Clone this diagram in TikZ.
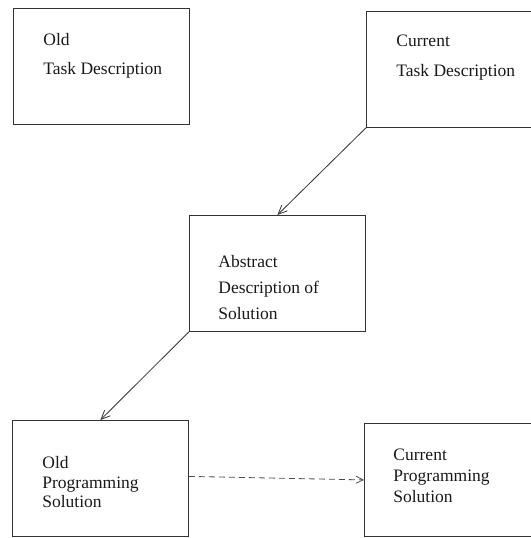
\documentclass[tikz,border=0pt]{standalone}
\usepackage{fontspec}
\setmainfont{Liberation Serif}
\usetikzlibrary{arrows.meta, positioning}

\begin{document}
\begin{tikzpicture}[
		x=1pt, y=-1pt,
		line width=0.8pt,
		box/.style={rectangle, draw=black!80, anchor=north west, inner sep=0pt,
			minimum width=176pt, minimum height=116pt},
		txt/.style={align=left, inner sep=0pt, anchor=north west, text=black!90,
			font=\fontsize{17.5}{#1}\selectfont},
		arr/.style={-{Straight Barb[length=9pt, width=8pt]}, draw=black!80},
		dasharr/.style={-{Straight Barb[length=7pt, width=7pt]}, draw=black!70,
			dash pattern=on 6pt off 4pt}
	]
		\useasboundingbox (0,0) rectangle (530,538);

		\node[box] (oldtask) at (13,8) {};
		\node[box] (curtask) at (366,11) {};
		\node[box] (abstract) at (189,215) {};
		\node[box] (oldprog) at (12,420) {};
		\node[box, minimum height=113pt] (curprog) at (364,423) {};

		\node[txt=29, below right=25pt and 30pt of oldtask.north west] (oldtasktxt) {Old\\Task Description};
		\node[txt=30, below right=24pt and 30pt of curtask.north west] (curtasktxt) {Current\\Task Description};
		\node[txt=26, below right=40pt and 29pt of abstract.north west] (abstracttxt) {Abstract\\Description of\\Solution};
		\node[txt=19.5, below right=36pt and 30pt of oldprog.north west] (oldprogtxt) {Old\\Programming\\Solution};
		\node[txt=21, below right=26pt and 29pt of curprog.north west] (curprogtxt) {Current\\Programming\\Solution};

		\draw[arr] (curtask.south west) -- (abstract.north);
		\draw[arr] (abstract.south west) -- (oldprog.north);
		\draw[dasharr] ([yshift=2pt]oldprog.east) -- (curprog.west);
	\end{tikzpicture}
\end{document}
